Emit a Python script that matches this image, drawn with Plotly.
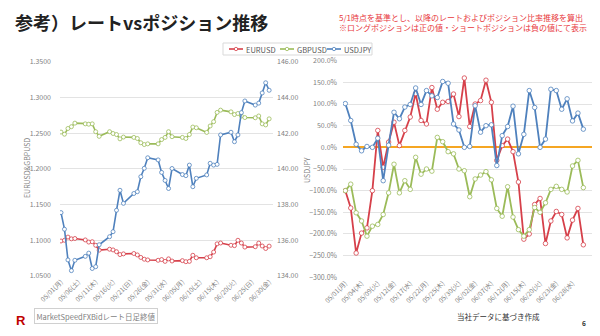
import plotly.graph_objects as go
import pandas as pd

# ---------------- data ----------------
dates = [
    "2023-05-01", "2023-05-02", "2023-05-03", "2023-05-04", "2023-05-05",
    "2023-05-08", "2023-05-09", "2023-05-10", "2023-05-11", "2023-05-12",
    "2023-05-15", "2023-05-16", "2023-05-17", "2023-05-18", "2023-05-19",
    "2023-05-22", "2023-05-23", "2023-05-24", "2023-05-25", "2023-05-26",
    "2023-05-29", "2023-05-30", "2023-05-31", "2023-06-01", "2023-06-02",
    "2023-06-05", "2023-06-06", "2023-06-07", "2023-06-08", "2023-06-09",
    "2023-06-12", "2023-06-13", "2023-06-14", "2023-06-15", "2023-06-16",
    "2023-06-19", "2023-06-20", "2023-06-21", "2023-06-22", "2023-06-23",
    "2023-06-26", "2023-06-27", "2023-06-28", "2023-06-29", "2023-06-30",
]

# left chart: daily closing rates
eurusd_rate = [1.0990, 1.1000, 1.1045, 1.1020, 1.1025, 1.1005, 1.0975, 1.0980, 1.0930, 1.0862,
               1.0875, 1.0865, 1.0840, 1.0800, 1.0810, 1.0815, 1.0795, 1.0760, 1.0735, 1.0725,
               1.0720, 1.0730, 1.0705, 1.0740, 1.0710, 1.0715, 1.0700, 1.0705, 1.0790, 1.0755,
               1.0755, 1.0770, 1.0835, 1.0950, 1.0962, 1.0930, 1.0925, 1.1000, 1.0962, 1.0905,
               1.0910, 1.0960, 1.0920, 1.0885, 1.0918]
gbpusd_rate = [1.2515, 1.2485, 1.2565, 1.2590, 1.2640, 1.2630, 1.2625, 1.2630, 1.2520, 1.2455,
               1.2520, 1.2495, 1.2480, 1.2420, 1.2445, 1.2440, 1.2425, 1.2365, 1.2340, 1.2350,
               1.2350, 1.2410, 1.2440, 1.2520, 1.2450, 1.2440, 1.2425, 1.2480, 1.2585, 1.2575,
               1.2510, 1.2600, 1.2660, 1.2790, 1.2822, 1.2798, 1.2760, 1.2775, 1.2740, 1.2718,
               1.2715, 1.2740, 1.2630, 1.2615, 1.2700]
usdjpy_rate = [137.55, 136.62, 134.90, 134.30, 134.88, 135.10, 135.28, 134.42, 134.52, 135.75,
               136.20, 136.48, 137.68, 138.80, 138.07, 138.62, 138.72, 139.56, 140.03, 140.62,
               140.50, 139.80, 139.35, 138.90, 140.02, 139.68, 139.62, 140.21, 139.00, 139.47,
               139.66, 140.31, 140.21, 140.25, 141.90, 142.05, 141.52, 141.90, 143.15, 143.80,
               143.57, 143.68, 144.25, 144.82, 144.40]

# right chart: position ratio change vs 5/1 (%)
eurusd_pos = [-100, -140, -244, -198, -186, -100, 39, -46, 12, 58,
              4, 39, 70, 124, 62, 54, 138, 88, 104, 106,
              123, 71, 160, 48, 100, 108, 155, 104, -30, 4,
              19, -10, -80, -212, -200, -132, -118, -222, -170, -148,
              -155, -209, -168, -141, -225]
gbpusd_pos = [-100, -85, -151, -170, -205, -182, -178, -155, -105, -39,
              -105, -77, -97, -23, -62, -50, -55, 23, 13, -10,
              -15, -50, -54, -114, -73, -64, -56, -75, -141, -159,
              -91, -161, -190, -205, -190, -139, -150, -128, -97, -90,
              -97, -103, -43, -30, -93]
usdjpy_pos = [101, 62, 7, -8, 2, 0, 21, -77, 5, 81,
              66, 93, 99, 137, 99, 131, 119, 115, 152, 148,
              54, 40, 0, 2, 96, 35, 50, 52, -42, 27,
              48, 95, -15, 30, 131, 92, 0, 19, 134, 131,
              88, 112, 61, 79, 42]

left_tick_dates = ["2023-05-01", "2023-05-06", "2023-05-11", "2023-05-16", "2023-05-21",
                   "2023-05-26", "2023-05-31", "2023-06-05", "2023-06-10", "2023-06-15",
                   "2023-06-20", "2023-06-25", "2023-06-30"]
weekday_jp = ["月", "火", "水", "木", "金", "土", "日"]

series_names = ["EURUSD", "GBPUSD", "USDJPY"]
colors = {"EURUSD": "#D6404A", "GBPUSD": "#9BBB59", "USDJPY": "#4F81BD"}

FONT = "Noto Sans CJK JP"
TICK_COLOR = "#7F7F7F"
GRID = "#E3E3E3"


def jp_label(d):
    t = pd.Timestamp(d)
    return f"{t:%m/%d}({weekday_jp[t.weekday()]})"


cat_labels = [jp_label(d) for d in dates]
left_tick_text = [jp_label(d) for d in left_tick_dates]
right_tick_vals = cat_labels[::3]

fig = go.Figure()

# ---- left chart ----
left_data = {"EURUSD": (eurusd_rate, "y"), "GBPUSD": (gbpusd_rate, "y"), "USDJPY": (usdjpy_rate, "y2")}
for name in series_names:
    vals, ya = left_data[name]
    fig.add_trace(go.Scatter(
        x=dates, y=vals, name=name, xaxis="x", yaxis=ya, mode="lines+markers",
        line=dict(color=colors[name], width=1.6),
        marker=dict(symbol="circle", size=4, color="white", line=dict(color=colors[name], width=0.8)),
        showlegend=False,
    ))

# ---- right chart ----
right_data = {"EURUSD": eurusd_pos, "GBPUSD": gbpusd_pos, "USDJPY": usdjpy_pos}
for name in series_names:
    fig.add_trace(go.Scatter(
        x=cat_labels, y=right_data[name], name=name, xaxis="x2", yaxis="y3", mode="lines+markers",
        line=dict(color=colors[name], width=1.8),
        marker=dict(symbol="circle", size=4.5, color="white", line=dict(color=colors[name], width=0.8)),
        showlegend=False,
    ))

tickfont = dict(family=FONT, size=7, color=TICK_COLOR)

fig.update_layout(
    width=600, height=336,
    margin=dict(l=0, r=0, t=0, b=0),
    paper_bgcolor="white", plot_bgcolor="white",
    font=dict(family=FONT, color=TICK_COLOR),
    showlegend=False,
    xaxis=dict(domain=[60 / 600, 273 / 600], type="date",
               range=["2023-04-30 17:00", "2023-07-01 02:40"],
               tickmode="array", tickvals=left_tick_dates, ticktext=left_tick_text,
               tickangle=-45, tickfont=dict(family=FONT, size=6.5, color=TICK_COLOR),
               showgrid=False, showline=False, zeroline=False, ticks="", automargin=False),
    yaxis=dict(domain=[1 - 276 / 336, 1 - 61.7 / 336], range=[1.05, 1.35], dtick=0.05,
               tickformat=".4f", tickfont=tickfont, gridcolor=GRID, gridwidth=1,
               zeroline=False, showline=False, ticks="", ticklabelstandoff=8, automargin=False),
    yaxis2=dict(overlaying="y", side="right", anchor="x", range=[134, 146], dtick=2,
                tickformat=".2f", tickfont=tickfont, showgrid=False, zeroline=False,
                showline=False, ticks="", ticklabelstandoff=3, automargin=False),
    xaxis2=dict(domain=[343 / 600, 592 / 600], anchor="y3", type="category",
                range=[-0.43, 45.6], tickmode="array", tickvals=right_tick_vals,
                ticktext=right_tick_vals, tickangle=-45,
                tickfont=dict(family=FONT, size=6.5, color=TICK_COLOR),
                showgrid=False, showline=False, zeroline=False, ticks="", automargin=False),
    yaxis3=dict(domain=[1 - 277.3 / 336, 1 - 60.7 / 336], anchor="x2", range=[-300, 200],
                dtick=50, tickformat=".1f", ticksuffix="%", tickfont=tickfont,
                gridcolor=GRID, gridwidth=1, zeroline=True, zerolinecolor="#F5A623",
                zerolinewidth=2, showline=False, ticks="", ticklabelstandoff=5,
                automargin=False),
)

# ---- compact legend (decoration only, in page pixels) ----
W, H = 600, 336
def px(x):
    return x / W
def py(y):
    return 1 - y / H

shapes = [dict(type="rect", xref="paper", yref="paper", x0=px(223), x1=px(372),
               y0=py(43), y1=py(55), line=dict(color="#D9D9D9", width=1),
               fillcolor="white", layer="above")]
ann = []
legend_x = {"EURUSD": 229, "GBPUSD": 280, "USDJPY": 327}
for name in series_names:
    lx = legend_x[name]
    shapes.append(dict(type="line", xref="paper", yref="paper", x0=px(lx), x1=px(lx + 14),
                       y0=py(49), y1=py(49), line=dict(color=colors[name], width=1.6),
                       layer="above"))
    shapes.append(dict(type="circle", xref="paper", yref="paper", x0=px(lx + 5.3), x1=px(lx + 8.7),
                       y0=py(47.3), y1=py(50.7), line=dict(color=colors[name], width=0.8),
                       fillcolor="white", layer="above"))
    ann.append(dict(text=name, x=px(lx + 15), y=py(49.3), xref="paper", yref="paper",
                    xanchor="left", yanchor="middle", showarrow=False,
                    font=dict(family=FONT, size=7.5, color="#595959")))

# title
ann.append(dict(text="<b>参考）レートvsポジション推移</b>", x=px(13), y=py(22),
                xref="paper", yref="paper", xanchor="left", yanchor="middle", showarrow=False,
                font=dict(family=FONT, size=18, color="#222222")))
# red notes
ann.append(dict(text="5/1時点を基準とし、以降のレートおよびポジション比率推移を算出<br>"
                     "※ロングポジションは正の値・ショートポジションは負の値にて表示",
                x=px(589), y=py(22.5), xref="paper", yref="paper", xanchor="right",
                yanchor="middle", align="left", showarrow=False,
                font=dict(family=FONT, size=8, color="#E8383D")))
# axis titles
ann.append(dict(text="EURUSD&GBPUSD", x=px(27), y=py(168), xref="paper", yref="paper",
                textangle=-90, showarrow=False, xanchor="center", yanchor="middle",
                font=dict(family=FONT, size=7, color=TICK_COLOR)))
ann.append(dict(text="USDJPY", x=px(307), y=py(170), xref="paper", yref="paper",
                textangle=-90, showarrow=False, xanchor="center", yanchor="middle",
                font=dict(family=FONT, size=7, color=TICK_COLOR)))
# source box
ann.append(dict(text="MarketSpeedFXBidレート日足終値", x=px(34), y=py(316),
                xref="paper", yref="paper", xanchor="left", yanchor="middle", showarrow=False,
                bordercolor="#D0D0D0", borderwidth=1, borderpad=1.5, bgcolor="white",
                font=dict(family=FONT, size=7.5, color="#7F7F7F")))
# logo
ann.append(dict(text="<b>R</b>", x=px(21), y=py(320), xref="paper", yref="paper",
                xanchor="center", yanchor="middle", showarrow=False,
                font=dict(family="Liberation Sans", size=13, color="#BF0000")))
ann.append(dict(text="当社データに基づき作成", x=px(455), y=py(316),
                xref="paper", yref="paper", xanchor="left", yanchor="middle", showarrow=False,
                font=dict(family=FONT, size=7.5, color="#333333")))
ann.append(dict(text="<b>6</b>", x=px(584), y=py(323), xref="paper", yref="paper",
                xanchor="center", yanchor="middle", showarrow=False,
                font=dict(family=FONT, size=6.5, color="#333333")))
fig.update_layout(annotations=ann, shapes=shapes)

fig.write_html("out.html")
